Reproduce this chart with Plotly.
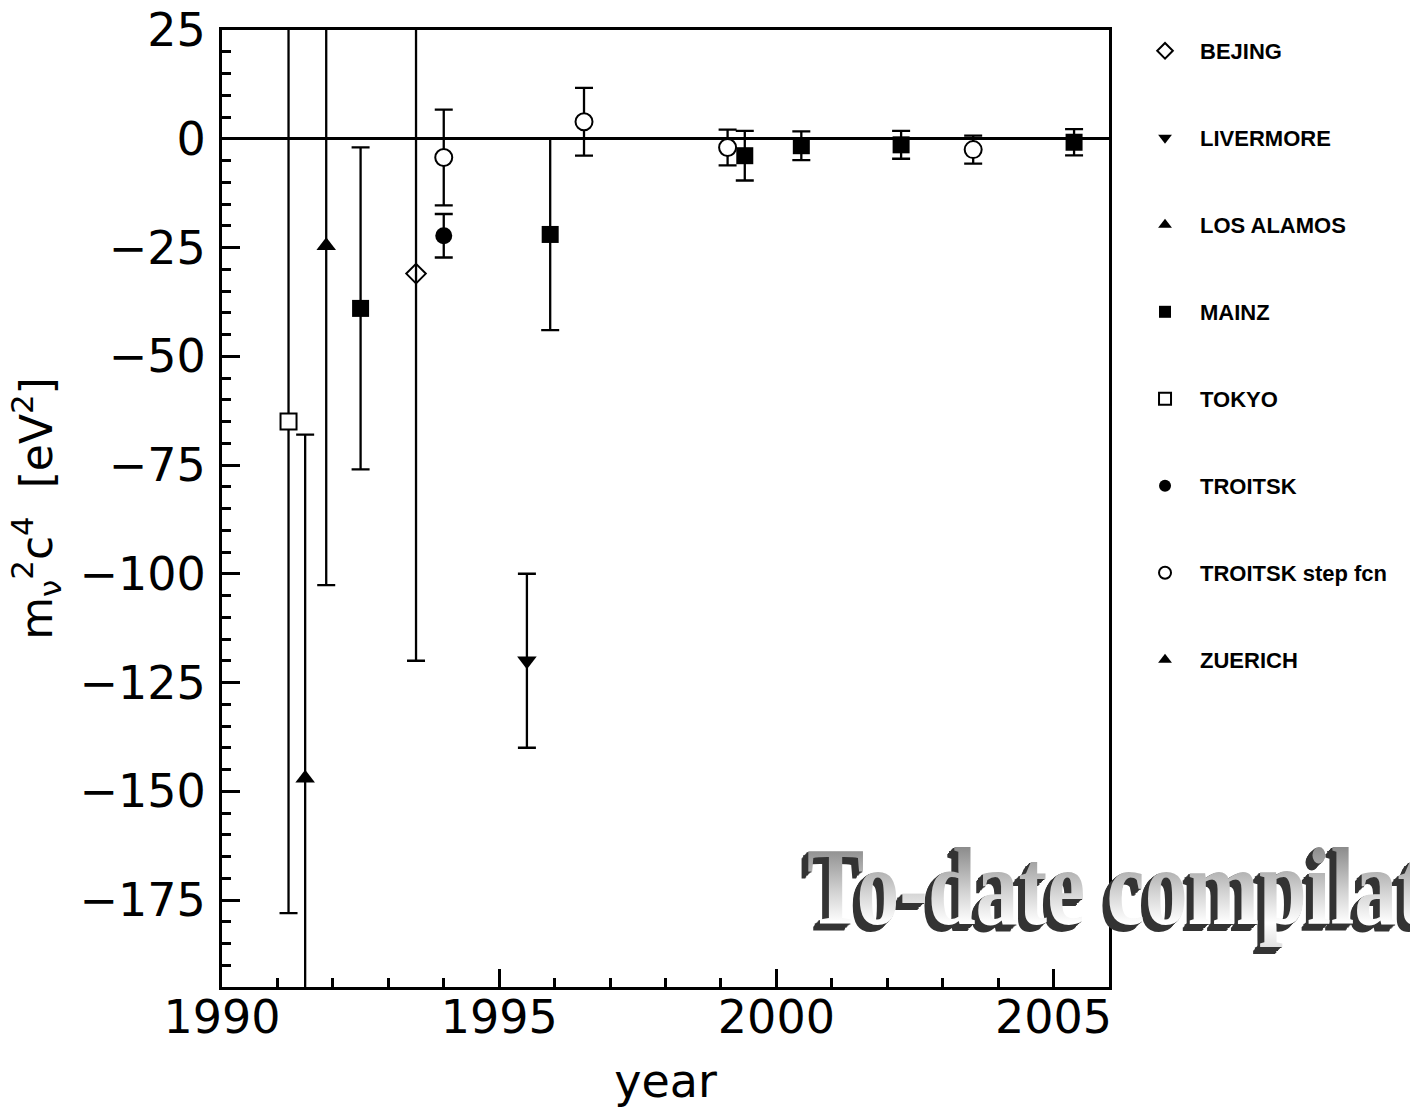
import plotly.graph_objects as go

# ---------------- data ----------------
experiments = ["BEJING", "LIVERMORE", "LOS ALAMOS", "MAINZ", "TOKYO",
               "TROITSK", "TROITSK step fcn", "ZUERICH"]

bejing_year = [1993.5]
bejing_m2 = [-31]
bejing_err = [89]

livermore_year = [1995.5]
livermore_m2 = [-120]
livermore_err = [20]

losalamos_year = [1991.5]
losalamos_m2 = [-147]
losalamos_err = [79]

mainz_year = [1992.5, 1995.92, 1999.43, 2000.45, 2002.25, 2005.37]
mainz_m2 = [-39, -22, -3.9, -1.6, -1.4, -0.8]
mainz_err = [37, 22, 5.7, 3.3, 3.2, 3.0]

tokyo_year = [1991.2]
tokyo_m2 = [-65]
tokyo_err = [113]

troitsk_year = [1994.0]
troitsk_m2 = [-22.3]
troitsk_err = [5.0]

troitsk_step_year = [1994.0, 1996.53, 1999.12, 2003.55]
troitsk_step_m2 = [-4.3, 3.9, -2.0, -2.5]
troitsk_step_err = [11, 7.8, 4.1, 3.2]

zuerich_year = [1991.88]
zuerich_m2 = [-24.6]
zuerich_err = [78]

x_range = [1990, 2006]
y_range = [-195, 25]
x_title = "year"
y_title = "m<sub>ν</sub><sup>2</sup>c<sup>4</sup>&nbsp;&nbsp;[eV<sup>2</sup>]"
overlay_text = "To-date compilation"

series = [
    (experiments[0], bejing_year, bejing_m2, bejing_err),
    (experiments[1], livermore_year, livermore_m2, livermore_err),
    (experiments[2], losalamos_year, losalamos_m2, losalamos_err),
    (experiments[3], mainz_year, mainz_m2, mainz_err),
    (experiments[4], tokyo_year, tokyo_m2, tokyo_err),
    (experiments[5], troitsk_year, troitsk_m2, troitsk_err),
    (experiments[6], troitsk_step_year, troitsk_step_m2, troitsk_step_err),
    (experiments[7], zuerich_year, zuerich_m2, zuerich_err),
]

# ---------------- styles ----------------
styles = {
    "BEJING": dict(symbol="diamond-open", size=15, color="black", line=dict(color="black", width=2)),
    "LIVERMORE": dict(symbol="triangle-down", size=17, color="black", line=dict(color="black", width=0)),
    "LOS ALAMOS": dict(symbol="triangle-up", size=17, color="black", line=dict(color="black", width=0)),
    "MAINZ": dict(symbol="square", size=17, color="black", line=dict(color="black", width=0)),
    "TOKYO": dict(symbol="square", size=16, color="white", line=dict(color="black", width=2)),
    "TROITSK": dict(symbol="circle", size=17, color="black", line=dict(color="black", width=0)),
    "TROITSK step fcn": dict(symbol="circle", size=17, color="white", line=dict(color="black", width=2)),
    "ZUERICH": dict(symbol="triangle-up", size=17, color="black", line=dict(color="black", width=0)),
}

fig = go.Figure()
for name, xs, ys, errs in series:
    fig.add_trace(go.Scatter(
        x=xs, y=ys, name=name, mode="markers",
        legendgroup=name,
        marker=styles[name],
        error_y=dict(type="data", array=errs, visible=True,
                     color="black", thickness=2.3, width=9),
        cliponaxis=True,
    ))

axis_font = dict(family="DejaVu Sans, Liberation Sans, sans-serif", size=46, color="black")

fig.update_layout(
    width=1410, height=1108,
    margin=dict(l=222, r=301, t=30, b=121),
    paper_bgcolor="white", plot_bgcolor="white",
    showlegend=True,
    legend=dict(
        x=1.0237, xanchor="left", y=1.0, yanchor="top",
        traceorder="grouped", tracegroupgap=55.4,
        itemsizing="constant", itemwidth=60,
        font=dict(family="Liberation Sans, Arial, sans-serif", size=22, color="black", weight="bold"),
        bgcolor="rgba(0,0,0,0)",
    ),
    xaxis=dict(
        range=x_range, dtick=5, tick0=1990, automargin=False,
        showline=True, mirror=True, linecolor="black", linewidth=3,
        ticks="inside", ticklen=18, tickwidth=2.5, tickcolor="black",
        tickfont=axis_font, showgrid=False, zeroline=False,
        ticklabelstandoff=-12,
        minor=dict(ticks="inside", ticklen=9, tickwidth=2.5, tickcolor="black", dtick=1, showgrid=False),
        title=dict(text=x_title, font=axis_font, standoff=33),
    ),
    yaxis=dict(
        range=y_range, dtick=25, tick0=0, automargin=False,
        showline=True, mirror=True, linecolor="black", linewidth=3,
        ticks="inside", ticklen=18, tickwidth=2.5, tickcolor="black",
        tickfont=axis_font, showgrid=False,
        zeroline=True, zerolinecolor="black", zerolinewidth=2.5,
        ticklabelstandoff=4,
        minor=dict(ticks="inside", ticklen=9, tickwidth=2.5, tickcolor="black", dtick=5, showgrid=False),
        title=dict(text=y_title, font=dict(family="DejaVu Sans, Liberation Sans, sans-serif", size=44, color="black"), standoff=14),
    ),
)

shadow = ", ".join("-%dpx %dpx 0 #333333" % (i, round(i * 0.7)) for i in range(1, 9))
fig.add_annotation(
    text=overlay_text, xref="paper", yref="paper",
    x=(805 - 222) / 887, y=(987 - 887) / 957,
    xanchor="left", yanchor="middle", showarrow=False,
    font=dict(family="Liberation Serif, Times New Roman, serif", size=110,
              color="#b0b0b0", weight="bold", shadow=shadow),
)

post = """
document.body.style.margin='0';
document.body.style.overflow='hidden';
var gd = document.getElementById('{plot_id}');
var svg = gd.querySelector('svg.main-svg');
var ns = 'http://www.w3.org/2000/svg';
var defs = document.createElementNS(ns, 'defs');
var lg = document.createElementNS(ns, 'linearGradient');
lg.setAttribute('id', 'wagrad'); lg.setAttribute('x1', '0'); lg.setAttribute('y1', '0');
lg.setAttribute('x2', '0'); lg.setAttribute('y2', '1');
[['0%', '#6a6a6a'], ['55%', '#d4d4d4'], ['80%', '#ffffff'], ['100%', '#e0e0e0']].forEach(function(s){
  var st = document.createElementNS(ns, 'stop');
  st.setAttribute('offset', s[0]); st.setAttribute('stop-color', s[1]); lg.appendChild(st);
});
defs.appendChild(lg); svg.insertBefore(defs, svg.firstChild);
gd.querySelectorAll('text.annotation-text').forEach(function(el){
  if (el.textContent.indexOf('To-date') === 0) {
    el.style.fill = 'url(#wagrad)';
    el.style.transformBox = 'fill-box';
    el.style.transformOrigin = '0% 50%';
    el.style.transform = 'scaleX(0.78)';
  }
});
"""

fig.write_html("out.html", post_script=post, config={"displayModeBar": False})
